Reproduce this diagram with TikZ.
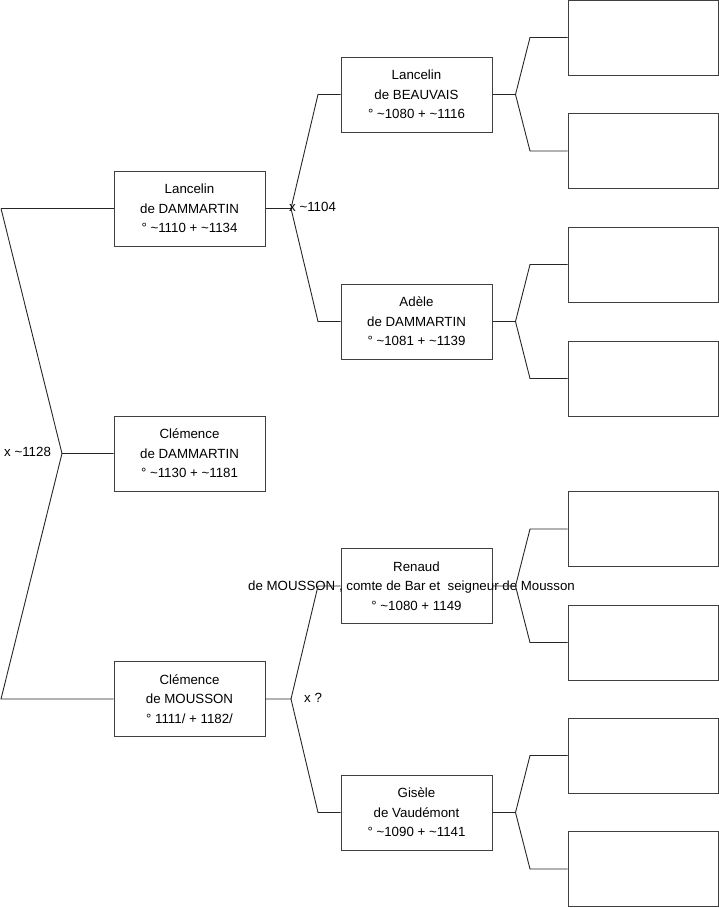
\documentclass[tikz,border=0pt]{standalone}
\usepackage{fontspec}
\setmainfont{Liberation Sans}
\begin{document}
\begin{tikzpicture}[x=1pt,y=-1pt,
  box/.style={draw=black!75,line width=1pt,minimum width=151pt,minimum height=75pt,inner sep=0pt,align=center,
    font=\fontsize{13.3}{19.5}\selectfont,fill=white},
  lbl/.style={inner sep=0pt,font=\fontsize{13.3}{15}\selectfont},
  con/.style={line width=0.9pt,black!85}]
\useasboundingbox (0,0) rectangle (719,908);
% level 1
\node[box] (a1) at (189.5,208.5) {Lancelin\\de DAMMARTIN\\° \textasciitilde1110 + \textasciitilde1134};
\node[box] (a2) at (189.5,453.5) {Clémence\\de DAMMARTIN\\° \textasciitilde1130 + \textasciitilde1181};
\node[box] (a3) at (189.5,699) {Clémence\\de MOUSSON\\° 1111/ + 1182/};
% level 2
\node[box] (b1) at (416.5,94.5) {Lancelin\\de BEAUVAIS\\° \textasciitilde1080 + \textasciitilde1116};
\node[box] (b2) at (416.5,321.5) {Adèle\\de DAMMARTIN\\° \textasciitilde1081 + \textasciitilde1139};
\node[box] (b3) at (416.5,586) {Renaud\\\makebox[0pt][c]{\hspace*{-10pt}de MOUSSON , comte de Bar et\ \ seigneur de Mousson}\\° \textasciitilde1080 + 1149};
\node[box] (b4) at (416.5,812.5) {Gisèle\\de Vaudémont\\° \textasciitilde1090 + \textasciitilde1141};
% level 3
\foreach \n/\y in {c1/37.5,c2/151,c3/264.5,c4/378.5,c5/529,c6/642.5,c7/755.5,c8/869}
  \node[box,minimum width=150pt] (\n) at (643,\y) {};
% root fork
\coordinate (r0) at (1,208.5);
\coordinate (rv) at (62,453.5);
\coordinate (r2) at (1,699);
\draw[con] (r0) -- (a1.west);
\draw[con] (r0) -- (rv) -- (a2.west);
\draw[con] (rv) -- (r2) -- (a3.west);
\node[lbl,anchor=west] (m0) at (4,452) {x \textasciitilde1128};
% fork of a1
\coordinate (v1) at (291,208.5);
\coordinate (v1a) at (318,94.5);
\coordinate (v1b) at (318,321.5);
\draw[con] (a1.east) -- (v1) -- (v1a) -- (b1.west);
\draw[con] (v1) -- (v1b) -- (b2.west);
\node[lbl,anchor=west] (m1) at (289,207) {x \textasciitilde1104};
% fork of a3
\coordinate (v3) at (291,699);
\coordinate (v3a) at (318,586);
\coordinate (v3b) at (318,812.5);
\draw[con] (a3.east) -- (v3) -- (v3a) -- (b3.west);
\draw[con] (v3) -- (v3b) -- (b4.west);
\node[lbl,anchor=west] (m3) at (304,698) {x ?};
% level 2 forks
\foreach \b/\p/\q/\yb/\yp/\yq in {b1/c1/c2/94.5/37.5/151, b2/c3/c4/321.5/264.5/378.5, b3/c5/c6/586/529/642.5, b4/c7/c8/812.5/755.5/869}{
  \coordinate (\b v) at (515.5,\yb);
  \coordinate (\b p) at (530,\yp);
  \coordinate (\b q) at (530,\yq);
  \draw[con] (\b.east) -- (\b v) -- (\b p) -- (\p.west);
  \draw[con] (\b v) -- (\b q) -- (\q.west);
}
\end{tikzpicture}
\end{document}
